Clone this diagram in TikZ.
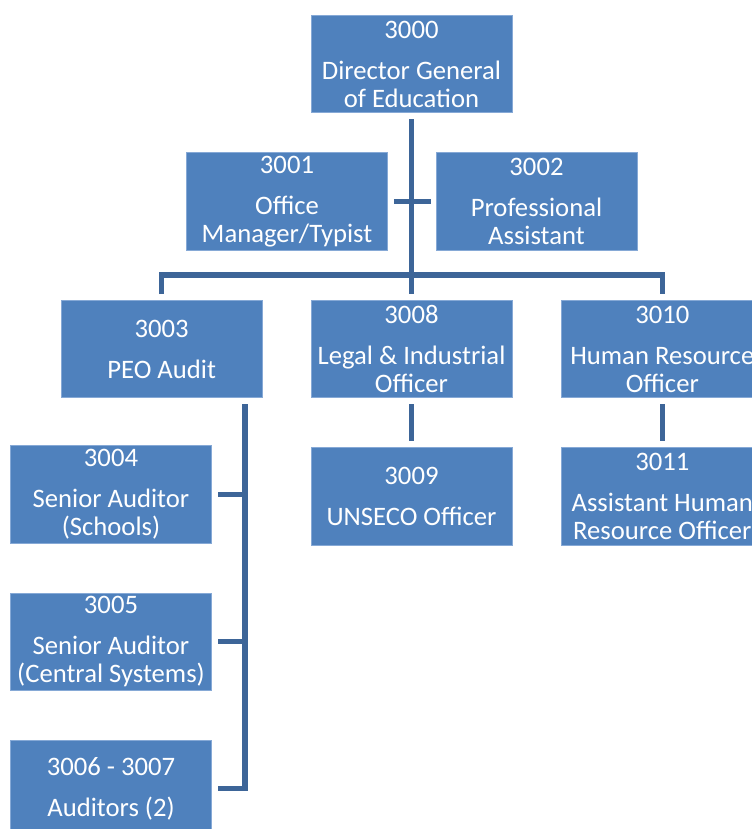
\documentclass[tikz,border=0pt]{standalone}
\usepackage{fontspec}
\setmainfont{Carlito}
\usepackage{tikz}
\usetikzlibrary{positioning}
\definecolor{boxblue}{HTML}{4F81BD}
\definecolor{boxedge}{HTML}{86A9D6}
\definecolor{linkblue}{HTML}{3D6598}

\begin{document}
\begin{tikzpicture}[x=0.75pt, y=-0.75pt, node distance={36.75pt},
    post/.style = {draw=boxedge, line width=0.6pt, fill=boxblue, text=white, inner sep=0pt,
                   minimum width=150.75pt, minimum height=73pt, align=center,
                   font=\fontsize{20}{21}\selectfont},
    link/.style = {draw=linkblue, line width=4pt}]
			\useasboundingbox (0,0) rectangle (752,829);
			\clip (0,0) rectangle (752,829);
			\node[post] (3000) at (411.5,64) {3000\\[9.75pt]Director General\\of Education};
			\node[post] (3001) at (287,201.5) {3001\\[9.75pt]Office\\Manager/Typist};
			\node[post] (3002) at (536.5,201.5) {3002\\[9.75pt]Professional\\Assistant};
			\node[post] (3008) [below=140.25pt of 3000] {3008\\[9.75pt]Legal \& Industrial\\Officer};
			\node[post] (3003) [left=36pt of 3008] {3003\\[9.75pt]PEO Audit};
			\node[post] (3010) [right=of 3008] {3010\\[9.75pt]Human Resource\\Officer};
			\node[post] (3009) [below=of 3008] {3009\\[9.75pt]UNSECO Officer};
			\node[post] (3011) [below=of 3010] {3011\\[9.75pt]Assistant Human\\Resource Officer};
			\node[post] (3004) at (111,494.5) {3004\\[9.75pt]Senior Auditor\\(Schools)};
			\node[post] (3005) [below=of 3004] {3005\\[9.75pt]Senior Auditor\\(Central Systems)};
			\node[post] (3006) [below=of 3005] {3006 - 3007\\[9.75pt]Auditors (2)};
			\coordinate (bus) at (411.5,275);
			\coordinate (spine) at (245,400);
			
			\draw[link, shorten <=4.5pt, shorten >=4.5pt] (3000.south) -- (3008.north);
			\draw[link, shorten <=4.5pt, shorten >=3.75pt] (3001.east) -- (3002.west);
			\draw[link, shorten <=4.5pt, shorten >=4.5pt] (3003.north) |- (bus) -| (3010.north);
			\draw[link, shorten <=4.5pt, shorten >=4.5pt] (3008.south) -- (3009.north);
			\draw[link, shorten <=4.5pt, shorten >=4.5pt] (3010.south) -- (3011.north);
			\draw[link, shorten <=4.5pt, shorten >=4.5pt] (spine |- 3003.south) -- (spine |- 3006.east) -- (3006.east);
			\draw[link, shorten >=4.5pt] (spine |- 3004.east) -- (3004.east);
			\draw[link, shorten >=4.5pt] (spine |- 3005.east) -- (3005.east);
		\end{tikzpicture}
\end{document}
